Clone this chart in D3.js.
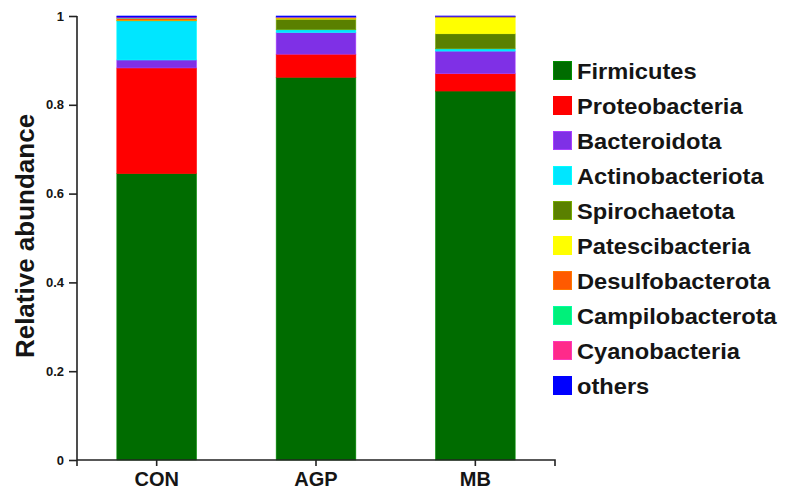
<!DOCTYPE html>
<html>
<head>
<meta charset="utf-8">
<script src="https://cdn.jsdelivr.net/npm/d3@7"></script>
<style>
  body { margin: 0; background: #fff; }
  text { font-family: "Liberation Sans", Arial, sans-serif; font-weight: bold; fill: #151515; }
</style>
</head>
<body>
<script>
// groups and phyla
const groups = ["CON", "AGP", "MB"];
const phyla = ["Firmicutes", "Proteobacteria", "Bacteroidota", "Actinobacteriota", "Spirochaetota",
  "Patescibacteria", "Desulfobacterota", "Campilobacterota", "Cyanobacteria", "others"];
const colors = ["#006c00", "#ff0000", "#7f30e6", "#00e6ff", "#5a8000",
  "#ffff00", "#ff5a00", "#00f07a", "#ff2a8a", "#0000ff"];
// relative abundance per group, same order as phyla
const conValues = [0.645, 0.238, 0.018, 0.088, 0.001, 0.0005, 0.004, 0.001, 0.002, 0.0025];
const agpValues = [0.862, 0.052, 0.049, 0.006, 0.024, 0.002, 0.001, 0.001, 0.001, 0.002];
const mbValues = [0.831, 0.039, 0.051, 0.005, 0.034, 0.037, 0.001, 0.0005, 0.001, 0.0005];
const yTicks = [0, 0.2, 0.4, 0.6, 0.8, 1];

const width = 785, height = 501;
const svg = d3.select("body").append("svg")
    .attr("width", width)
    .attr("height", height);

const x = d3.scaleBand().domain(groups).range([77, 555]).paddingInner(0.5).paddingOuter(0.25);
const y = d3.scaleLinear().domain([0, 1]).range([460, 16]);
const color = d3.scaleOrdinal().domain(phyla).range(colors);

// build rows for the stack
const valuesByGroup = { CON: conValues, AGP: agpValues, MB: mbValues };
const rows = groups.map(g => {
    const row = { group: g };
    phyla.forEach((p, i) => row[p] = valuesByGroup[g][i]);
    return row;
});
const series = d3.stack().keys(phyla)(rows);

// stacked bars
svg.append("g").selectAll("g")
    .data(series)
    .enter().append("g")
    .attr("fill", d => color(d.key))
    .attr("stroke", d => d3.color(color(d.key)).brighter(0.8))
    .attr("stroke-width", 0.6)
    .selectAll("rect")
    .data(d => d)
    .enter().append("rect")
    .attr("x", d => x(d.data.group))
    .attr("width", x.bandwidth())
    .attr("y", d => y(d[1]))
    .attr("height", d => Math.max(0, y(d[0]) - y(d[1])));

// y axis
const yAxis = svg.append("g")
    .attr("transform", "translate(77,0)")
    .call(d3.axisLeft(y).tickValues(yTicks).tickFormat(d => d === 0 || d === 1 ? d : d3.format(".1f")(d))
        .tickSize(8).tickSizeOuter(0).tickPadding(5));
yAxis.select(".domain").attr("stroke", "#222").attr("stroke-width", 1.6)
    .attr("d", "M0,466V16");
yAxis.selectAll(".tick line").attr("stroke", "#222").attr("stroke-width", 1.6);
yAxis.selectAll(".tick text").style("font-size", "13px").style("font-family", "Liberation Sans, Arial, sans-serif")
    .style("font-weight", "bold").attr("fill", "#151515");

// x axis
const xAxis = svg.append("g")
    .attr("transform", "translate(0,460)")
    .call(d3.axisBottom(x).tickSize(6).tickSizeOuter(6).tickPadding(6));
xAxis.select(".domain").attr("stroke", "#222").attr("stroke-width", 1.6)
    .attr("d", "M77,0H555V6");
xAxis.selectAll(".tick line").attr("stroke", "#222").attr("stroke-width", 1.6);
xAxis.selectAll(".tick text").style("font-size", "20px").style("font-family", "Liberation Sans, Arial, sans-serif")
    .style("font-weight", "bold").attr("fill", "#151515");

// y title
svg.append("text")
    .attr("transform", "translate(34,236) rotate(-90)")
    .attr("text-anchor", "middle")
    .style("font-size", "26px")
    .text("Relative abundance");

// legend
const legend = svg.append("g").selectAll("g")
    .data(phyla)
    .enter().append("g")
    .attr("transform", (d, i) => "translate(553," + (71 + i * 35) + ")");
legend.append("rect")
    .attr("x", 0.5)
    .attr("y", -9.5)
    .attr("width", 18)
    .attr("height", 18)
    .attr("fill", d => color(d))
    .attr("stroke", d => d3.color(color(d)).brighter(0.8))
    .attr("stroke-width", 1);
legend.append("text")
    .attr("transform", "translate(24,7.5) scale(1.1,1)")
    .style("font-size", "21.5px")
    .text(d => d);
</script>
</body>
</html>
